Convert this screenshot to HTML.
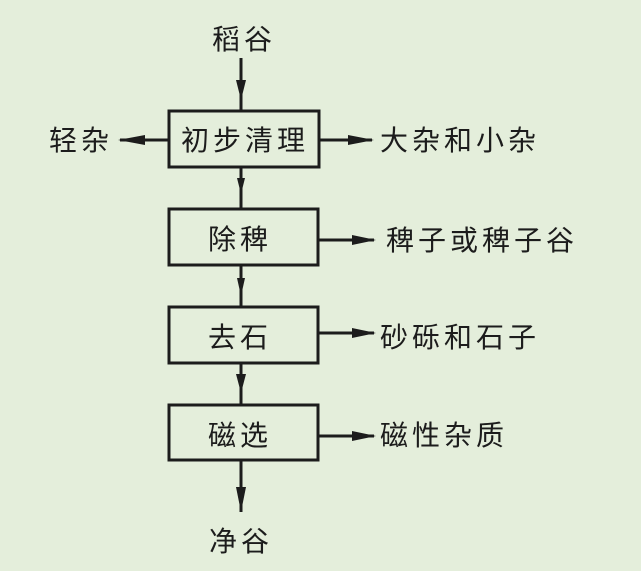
<!DOCTYPE html>
<html><head><meta charset="utf-8"><style>
body{margin:0;width:641px;height:571px;background:#e4eedb;overflow:hidden}
svg{display:block}
text{font-family:"Liberation Sans","Noto Sans CJK SC",sans-serif;font-size:28px;fill:#1c1c1c;letter-spacing:4px}
</style></head><body>
<svg width="641" height="571" viewBox="0 0 641 571">
<g stroke="#1c1c1c" stroke-width="3" fill="none">
<rect x="169" y="111" width="150" height="56"/>
<rect x="169" y="209" width="149" height="56"/>
<rect x="169" y="307" width="149" height="56"/>
<rect x="169" y="405" width="149" height="55"/>
<line x1="241" y1="58" x2="241" y2="111"/>
<line x1="241" y1="167" x2="241" y2="209"/>
<line x1="241" y1="265" x2="241" y2="307"/>
<line x1="241" y1="363" x2="241" y2="405"/>
<line x1="241" y1="460" x2="241" y2="512"/>
<line x1="120" y1="140" x2="169" y2="140"/>
<line x1="319" y1="140" x2="372" y2="140"/>
<line x1="318" y1="240" x2="374" y2="240"/>
<line x1="318" y1="333" x2="374" y2="333"/>
<line x1="318" y1="436" x2="374" y2="436"/>
</g>
<g fill="#1c1c1c">
<polygon points="236,80 246,80 241,100"/>
<polygon points="237,178 245,178 241,194"/>
<polygon points="237,278 245,278 241,296"/>
<polygon points="236,374 246,374 241,393"/>
<polygon points="236,487 246,487 241,512"/>
<polygon points="118,140 145,135 145,145"/>
<polygon points="374,140 348,135 348,145"/>
<polygon points="376,240 352,235 352,245"/>
<polygon points="376,333 352,328 352,338"/>
<polygon points="376,436 352,431 352,441"/>
</g>
<text x="212" y="49">稻谷</text>
<text x="49" y="150">轻杂</text>
<text x="181" y="150">初步清理</text>
<text x="380" y="150">大杂和小杂</text>
<text x="208" y="249">除稗</text>
<text x="386" y="250">稗子或稗子谷</text>
<text x="208" y="347">去石</text>
<text x="380" y="347">砂砾和石子</text>
<text x="208" y="445">磁选</text>
<text x="380" y="445">磁性杂质</text>
<text x="209" y="551">净谷</text>
</svg>
</body></html>
